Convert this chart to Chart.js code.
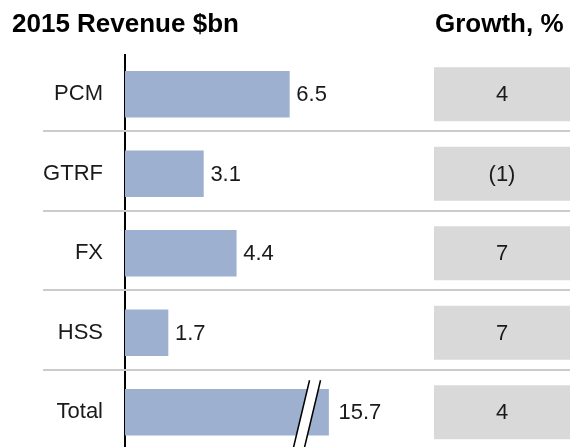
<!DOCTYPE html>
<html>
<head>
<meta charset="utf-8">
<script src="https://cdn.jsdelivr.net/npm/chart.js@4"></script>
<style>
  html, body { margin: 0; padding: 0; background: #fff; overflow: hidden; }
  #wrap { width: 570px; height: 452px; }
</style>
</head>
<body>
<div id="wrap"><canvas id="revenueChart" width="570" height="452"></canvas></div>
<script>
// Chart data
var segments = ['PCM', 'GTRF', 'FX', 'HSS', 'Total'];
var revenue = [6.5, 3.1, 4.4, 1.7, 15.7];
var growth = ['4', '(1)', '7', '7', '4'];
var axisMax = 17.6;
var brokenBarLength = 8.05; // Total bar is cut (//) and drawn shorter

var barColor = '#9db0cf';
var boxColor = '#d9d9d9';
var textColor = '#1a1a1a';

Chart.defaults.font.family = "'Liberation Sans', Arial, sans-serif";

/**
 * Draws the row separators, growth boxes, value labels, break mark and headers
 */
var revenueExtras = {
  id: 'revenueExtras',
  beforeDatasetsDraw: function(chart) {
    var ctx = chart.ctx;
    var yScale = chart.scales.y;
    ctx.save();

    // thin grey lines between rows
    ctx.strokeStyle = '#cbcbcb';
    ctx.lineWidth = 2;
    for (var i = 1; i < segments.length; i++) {
      var yy = Math.round((yScale.getPixelForValue(i - 1) + yScale.getPixelForValue(i)) / 2) - 3;
      ctx.beginPath();
      ctx.moveTo(43, yy);
      ctx.lineTo(chart.width, yy);
      ctx.stroke();
    }

    // growth boxes on the right
    var boxLeft = 434;
    ctx.font = '22px ' + Chart.defaults.font.family;
    ctx.textAlign = 'center';
    ctx.textBaseline = 'middle';
    growth.forEach(function(g, idx) {
      var cy = yScale.getPixelForValue(idx);
      ctx.fillStyle = boxColor;
      ctx.fillRect(boxLeft, cy - 27, chart.width - boxLeft, 54);
      ctx.fillStyle = textColor;
      ctx.fillText(g, (boxLeft + chart.width) / 2, cy + 1);
    });

    ctx.restore();
  },
  afterDatasetsDraw: function(chart) {
    var ctx = chart.ctx;
    var bars = chart.getDatasetMeta(0).data;
    ctx.save();

    // break mark on the shortened bar
    revenue.forEach(function(v, idx) {
      if (v <= brokenBarLength) return;
      var bar = bars[idx];
      var c1 = bar.x - 27;
      var c2 = bar.x - 16;
      var top = bar.y - 32;
      var bot = bar.y + 35;
      ctx.fillStyle = '#fff';
      ctx.beginPath();
      ctx.moveTo(c1 - 8, bot);
      ctx.lineTo(c1 + 8, top);
      ctx.lineTo(c2 + 8, top);
      ctx.lineTo(c2 - 8, bot);
      ctx.closePath();
      ctx.fill();
      ctx.strokeStyle = '#000';
      ctx.lineWidth = 1.5;
      ctx.beginPath();
      ctx.moveTo(c1 - 8, bot);
      ctx.lineTo(c1 + 8, top);
      ctx.moveTo(c2 - 8, bot);
      ctx.lineTo(c2 + 8, top);
      ctx.stroke();
    });

    // value labels
    ctx.font = '22px ' + Chart.defaults.font.family;
    ctx.fillStyle = textColor;
    ctx.textAlign = 'left';
    ctx.textBaseline = 'middle';
    bars.forEach(function(bar, idx) {
      var gap = revenue[idx] > brokenBarLength ? 10 : 7;
      ctx.fillText(revenue[idx].toFixed(1), bar.x + gap, bar.y + 1);
    });

    // headers
    ctx.font = 'bold 26px ' + Chart.defaults.font.family;
    ctx.fillStyle = '#000';
    ctx.textBaseline = 'alphabetic';
    ctx.fillText('2015 Revenue $bn', 12, 32);
    ctx.fillText('Growth, %', 435, 32);

    ctx.restore();
  }
};

var ctx = document.getElementById('revenueChart').getContext('2d');

new Chart(ctx, {
  type: 'bar',
  data: {
    labels: segments,
    datasets: [{
      data: revenue.map(function(v) { return Math.min(v, brokenBarLength); }),
      backgroundColor: barColor,
      borderWidth: 0,
      barThickness: 46
    }]
  },
  options: {
    indexAxis: 'y',
    responsive: false,
    animation: false,
    layout: { autoPadding: false, padding: { top: 54.5, left: 0, right: 0, bottom: 0 } },
    plugins: {
      legend: { display: false },
      tooltip: { enabled: false }
    },
    scales: {
      x: { display: false, min: 0, max: axisMax },
      y: {
        z: 1,
        grid: { display: false, drawTicks: false },
        border: { display: true, color: '#000', width: 2 },
        ticks: { color: textColor, padding: 22, font: { size: 22 } },
        afterFit: function(scale) {
          scale.width = 125;
          // labels sit inside their rows, no extra room needed above/below
          scale.paddingTop = 0;
          scale.paddingBottom = 0;
        }
      }
    }
  },
  plugins: [revenueExtras]
});
</script>
</body>
</html>
